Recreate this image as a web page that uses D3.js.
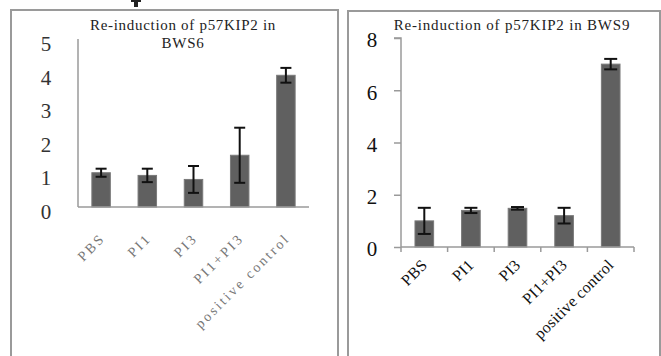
<!DOCTYPE html>
<html>
<head>
<meta charset="utf-8">
<script src="https://cdn.jsdelivr.net/npm/d3@7/dist/d3.min.js"></script>
<style>
  html, body { margin: 0; padding: 0; background: #fff; }
  svg { display: block; }
</style>
</head>
<body>
<svg id="chart" width="661" height="356"></svg>
<script>
// Treatment groups shared by both panels
const categories = ["PBS", "PI1", "PI3", "PI1+PI3", "positive control"];

// BWS6: mean fold induction and error
const bws6Values = [1.02, 0.94, 0.82, 1.54, 3.92];
const bws6Errors = [0.12, 0.2, 0.4, 0.82, 0.22];
const bws6Ticks = [0, 1, 2, 3, 4, 5];

// BWS9: mean fold induction and error
const bws9Values = [1.0, 1.4, 1.48, 1.2, 7.0];
const bws9Errors = [0.5, 0.1, 0.05, 0.3, 0.2];
const bws9Ticks = [0, 2, 4, 6, 8];

const SERIF = "'Liberation Serif', 'DejaVu Serif', serif";

const svg = d3.select("#chart");

// cropped descender from the line above
svg.append("path")
  .attr("d", "M131,0H141V2H138V7H134V2H131Z")
  .attr("fill", "#222");

// panel frames
svg.append("rect").attr("x", 11).attr("y", 10).attr("width", 327).attr("height", 360)
  .attr("fill", "none").attr("stroke", "#9a9a9a").attr("stroke-width", 2);
svg.append("rect").attr("x", 348).attr("y", 11).attr("width", 312).attr("height", 360)
  .attr("fill", "none").attr("stroke", "#9a9a9a").attr("stroke-width", 2);

function drawPanel(opt) {
  const g = svg.append("g");
  const x = d3.scaleBand().domain(categories).range(opt.xRange)
    .paddingInner(0.6).paddingOuter(0.3);
  const y = d3.scaleLinear().domain(opt.yDomain).range(opt.yRange);

  // bars
  g.selectAll("rect.bar").data(categories).join("rect")
    .attr("class", "bar")
    .attr("x", d => x(d))
    .attr("width", x.bandwidth())
    .attr("y", (d, i) => y(opt.values[i]))
    .attr("height", (d, i) => y(0) - y(opt.values[i]))
    .attr("fill", "#606060")
    .attr("stroke", "#7a7a7a").attr("stroke-width", 1);

  // error bars
  const eb = g.selectAll("g.err").data(categories).join("g").attr("class", "err")
    .attr("stroke", "#111").attr("stroke-width", 2);
  const cx = d => x(d) + x.bandwidth() / 2;
  const cap = opt.cap;
  eb.append("line")
    .attr("x1", cx).attr("x2", cx)
    .attr("y1", (d, i) => y(opt.values[i] + opt.errors[i]))
    .attr("y2", (d, i) => y(opt.values[i] - opt.errors[i]));
  eb.append("line")
    .attr("x1", d => cx(d) - cap / 2).attr("x2", d => cx(d) + cap / 2)
    .attr("y1", (d, i) => y(opt.values[i] + opt.errors[i]))
    .attr("y2", (d, i) => y(opt.values[i] + opt.errors[i]));
  eb.append("line")
    .attr("x1", d => cx(d) - cap / 2).attr("x2", d => cx(d) + cap / 2)
    .attr("y1", (d, i) => y(opt.values[i] - opt.errors[i]))
    .attr("y2", (d, i) => y(opt.values[i] - opt.errors[i]));

  // y axis
  const yAxis = d3.axisLeft(y).tickValues(opt.ticks).tickSize(opt.yTickSize).tickFormat(d3.format("d"));
  const ya = g.append("g").attr("transform", `translate(${opt.xRange[0]},0)`).call(yAxis)
    .attr("font-family", SERIF);
  ya.select(".domain").attr("stroke", "#9a9a9a").attr("stroke-width", 1.5)
    .attr("d", `M${-opt.yTickSize},${y(opt.yDomain[1])}H0V${y(0)}`);
  if (opt.yTickSize === 0) ya.select(".domain").attr("d", `M0,${y(opt.yDomain[1])}V${y(0)}`);
  ya.selectAll(".tick line").attr("stroke", "#9a9a9a").attr("stroke-width", 1.5);
  ya.selectAll(".tick text")
    .attr("x", opt.yLabelX - opt.xRange[0]).attr("dy", opt.yLabelDy)
    .attr("text-anchor", "middle")
    .style("font-family", SERIF).attr("font-size", 21)
    .attr("fill", opt.yLabelColor);

  // x axis
  const xAxis = d3.axisBottom(x).tickSize(0).tickFormat("");
  const xa = g.append("g").attr("transform", `translate(0,${y(0)})`).call(xAxis);
  xa.select(".domain").attr("stroke", "#9a9a9a").attr("stroke-width", 1.5)
    .attr("d", `M${opt.xRange[0]},0H${opt.xRange[1]}`);
  if (opt.xTicks) {
    const step = x.step();
    const bounds = d3.range(categories.length + 1).map(k => opt.xRange[0] + k * step);
    xa.selectAll("line.bt").data(bounds).join("line").attr("class", "bt")
      .attr("x1", d => d).attr("x2", d => d).attr("y1", 0).attr("y2", 5)
      .attr("stroke", "#9a9a9a").attr("stroke-width", 1.5);
  }

  // rotated category labels
  g.selectAll("text.cat").data(categories).join("text")
    .attr("class", "cat")
    .attr("transform", d => `translate(${cx(d) + opt.labelDx},${opt.labelY}) rotate(-45)`)
    .attr("text-anchor", "end")
    .style("font-family", SERIF)
    .attr("font-size", opt.labelSize)
    .attr("letter-spacing", opt.labelSpacing)
    .attr("fill", opt.labelColor)
    .text(d => d);

  // title
  const t = g.append("text").attr("text-anchor", "middle")
    .style("font-family", SERIF).attr("font-size", 15)
    .attr("letter-spacing", opt.titleSpacing).attr("fill", "#222");
  opt.title.forEach((line, i) => {
    t.append("tspan").attr("x", opt.titleX).attr("y", opt.titleY + i * 18).text(line);
  });
}

drawPanel({
  values: bws6Values, errors: bws6Errors, ticks: bws6Ticks,
  xRange: [78, 309], yDomain: [0, 5], yRange: [207, 39],
  yTickSize: 0, yLabelX: 46, yLabelDy: "0.55em", yLabelColor: "#333",
  xTicks: false, cap: 11,
  labelDx: 5, labelY: 239, labelSize: 14, labelSpacing: 2.5, labelColor: "#777",
  title: ["Re-induction of p57KIP2 in", "BWS6"], titleX: 183, titleY: 30, titleSpacing: 0.7
});

drawPanel({
  values: bws9Values, errors: bws9Errors, ticks: bws9Ticks,
  xRange: [401, 634], yDomain: [0, 8], yRange: [247, 38],
  yTickSize: 7, yLabelX: 372, yLabelDy: "0.42em", yLabelColor: "#111",
  xTicks: true, cap: 13,
  labelDx: 4, labelY: 266, labelSize: 16, labelSpacing: 0.3, labelColor: "#111",
  title: ["Re-induction of p57KIP2 in BWS9"], titleX: 512, titleY: 30, titleSpacing: 0.8
});
</script>
</body>
</html>
